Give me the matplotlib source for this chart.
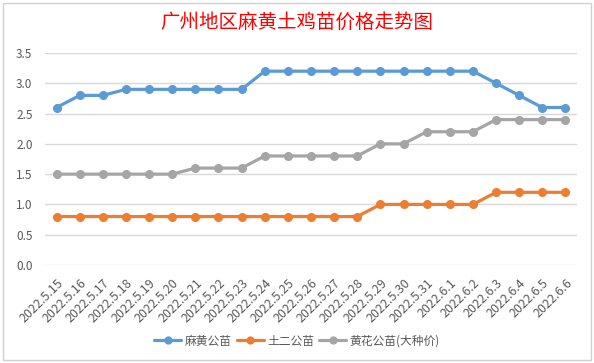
import numpy as np
import matplotlib.pyplot as plt
from matplotlib.patches import Rectangle

plt.rcParams['font.family'] = ['Noto Sans CJK SC', 'DejaVu Sans']

# Data
dates = ['2022.5.15', '2022.5.16', '2022.5.17', '2022.5.18', '2022.5.19', '2022.5.20',
         '2022.5.21', '2022.5.22', '2022.5.23', '2022.5.24', '2022.5.25', '2022.5.26',
         '2022.5.27', '2022.5.28', '2022.5.29', '2022.5.30', '2022.5.31', '2022.6.1',
         '2022.6.2', '2022.6.3', '2022.6.4', '2022.6.5', '2022.6.6']
mahuang = [2.6, 2.8, 2.8, 2.9, 2.9, 2.9, 2.9, 2.9, 2.9, 3.2, 3.2, 3.2,
           3.2, 3.2, 3.2, 3.2, 3.2, 3.2, 3.2, 3.0, 2.8, 2.6, 2.6]
tuer = [0.8, 0.8, 0.8, 0.8, 0.8, 0.8, 0.8, 0.8, 0.8, 0.8, 0.8, 0.8,
        0.8, 0.8, 1.0, 1.0, 1.0, 1.0, 1.0, 1.2, 1.2, 1.2, 1.2]
huanghua = [1.5, 1.5, 1.5, 1.5, 1.5, 1.5, 1.6, 1.6, 1.6, 1.8, 1.8, 1.8,
            1.8, 1.8, 2.0, 2.0, 2.2, 2.2, 2.2, 2.4, 2.4, 2.4, 2.4]
series_names = ['麻黄公苗', '土二公苗', '黄花公苗(大种价)']
colors = ['#5B9BD5', '#ED7D31', '#A5A5A5']

fig = plt.figure(figsize=(5.94, 3.63), dpi=100)
fig.patch.set_facecolor('white')

# chart frame
fig.patches.append(Rectangle((3 / 594, 1 - 360 / 363), 588 / 594, 357 / 363,
                             transform=fig.transFigure, fill=False,
                             edgecolor='#D0D0D0', linewidth=1))

ax = fig.add_axes([45 / 594, 1 - 265 / 363, 532 / 594, 212 / 363])
x = np.arange(len(dates))
for vals, name, c in zip([mahuang, tuer, huanghua], series_names, colors):
    ax.plot(x, vals, color=c, linewidth=2.3, marker='o', markersize=5.5,
            label=name, solid_capstyle='round')

ax.set_xlim(-0.5, len(dates) - 0.5)
ax.set_ylim(0, 3.5)
ax.set_yticks(np.arange(0, 3.51, 0.5))
ax.set_yticklabels(['%.1f' % v for v in np.arange(0, 3.51, 0.5)])
ax.grid(axis='y', color='#D9D9D9', linewidth=1)
ax.set_axisbelow(True)
for s in ax.spines.values():
    s.set_visible(False)
ax.tick_params(axis='both', length=0, colors='#595959', labelsize=8.5)
ax.tick_params(axis='y', pad=9)
ax.tick_params(axis='x', pad=8, labelsize=9)
ax.set_xticks(x)
ax.set_xticklabels(dates, rotation=45, ha='right', va='top', rotation_mode='anchor')

fig.text(0.5, 1 - 22 / 363, '广州地区麻黄土鸡苗价格走势图', color='#FF0000',
         fontsize=14, fontweight='medium', ha='center', va='center')

fig.legend(loc='center', bbox_to_anchor=(0.5, 1 - 341 / 363), ncol=3, frameon=False,
           fontsize=8.5, handlelength=2.3, handletextpad=0.3, columnspacing=0.4,
           labelcolor='#595959', markerscale=0.9)

fig.savefig('out.png', dpi=100)
